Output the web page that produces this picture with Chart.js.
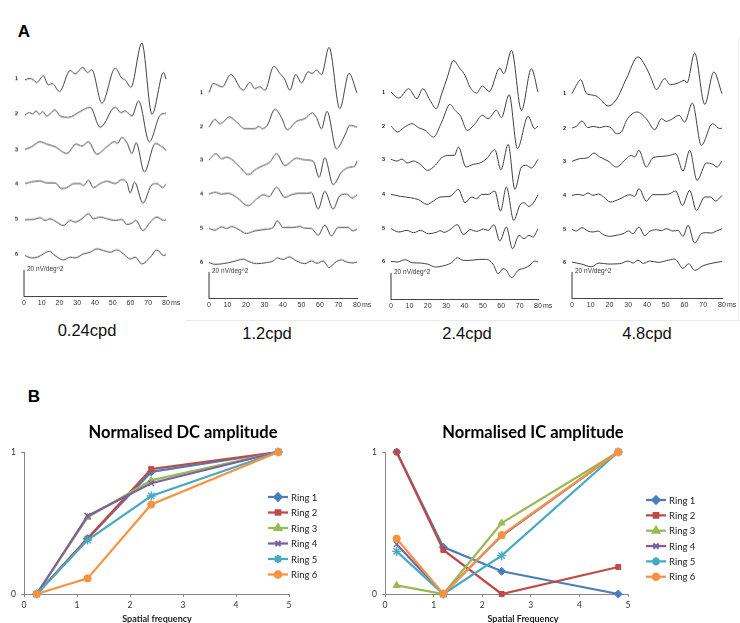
<!DOCTYPE html>
<html><head><meta charset="utf-8">
<script src="https://cdn.jsdelivr.net/npm/chart.js@4.4.0/dist/chart.umd.min.js"></script>
<style>
html,body{margin:0;padding:0;background:#fff;}
body{width:740px;height:623px;overflow:hidden;position:relative;font-family:"Liberation Sans",Arial,sans-serif;}
.box{position:absolute;}
.txt{position:absolute;white-space:nowrap;transform:translate(-50%,-50%);line-height:1;color:#111;}
.rule{position:absolute;background:#e9e9e9;}
</style></head><body>

<div class="rule" style="left:185px;top:320px;width:555px;height:1px"></div>
<div class="rule" style="left:738px;top:38px;width:1px;height:282px"></div>

<div class="txt" style="left:24px;top:32px;font:bold 17px 'Liberation Sans';color:#000">A</div>
<div class="txt" style="left:34px;top:397px;font:bold 17px 'Liberation Sans';color:#000">B</div>

<div class="box" id="p1"><canvas id="c1"></canvas></div>
<div class="box" id="p2"><canvas id="c2"></canvas></div>
<div class="box" id="p3"><canvas id="c3"></canvas></div>
<div class="box" id="p4"><canvas id="c4"></canvas></div>

<div class="txt" id="cap1" style="left:87px;top:330px;font:16.5px 'Liberation Sans'"></div>
<div class="txt" id="cap2" style="left:267px;top:333px;font:16.5px 'Liberation Sans'"></div>
<div class="txt" id="cap3" style="left:467px;top:333px;font:16.5px 'Liberation Sans'"></div>
<div class="txt" id="cap4" style="left:647px;top:333px;font:16.5px 'Liberation Sans'"></div>

<div class="box" id="b1"><canvas id="d1"></canvas></div>
<div class="box" id="b2"><canvas id="d2"></canvas></div>

<div class="txt" id="t1" style="left:183px;top:432px;font:bold 16.5px Lato;color:#000"></div>
<div class="txt" id="t2" style="left:533px;top:432px;font:bold 16.5px Lato;color:#000"></div>
<div class="txt" id="x1" style="left:157px;top:618px;font:bold 9px Lato;color:#222"></div>
<div class="txt" id="x2" style="left:523px;top:618px;font:bold 9px Lato;color:#222"></div>

<script>
// ---------------- DATA ----------------
const panelCaptions = ['0.24cpd', '1.2cpd', '2.4cpd', '4.8cpd'];
const timeUnit = 'ms';
const timeTicks = [0, 10, 20, 30, 40, 50, 60, 70, 80];
const scaleBar = [0, 20];            // nV/deg^2
const scaleLabel = '20 nV/deg^2';

// traces: [time ms, amplitude nV/deg^2] for rings 1..6
const traces024 = [
  [[0.6,-0.75],[3.4,0.25],[5.3,-0.75],[7.2,-2.75],[10.9,2.25],[13.7,-4.5],[15.9,-3.5],[20,-9.5],[26,6.25],[28.8,3.75],[33.1,8.5],[35.8,4.75],[38.2,6.75],[43.9,-18.25],[51.4,8],[55.1,0.5],[57,-0.75],[60.2,-6.25],[66.4,26.75],[72.1,-26.5],[78.7,4.75],[80,-0.25]],
  [[0.6,-1.25],[3,0.5],[4.9,-0.5],[6.8,1.75],[8.7,-0.75],[10.5,1.25],[12.8,-2],[17.5,2.5],[20.3,-2],[25,-3],[31.6,1.25],[37.3,4.5],[42.9,-10.5],[51.4,4.5],[54.6,0.5],[57,1.75],[60.8,-2],[64.6,9.25],[70.6,-21.25],[76.8,-1.25],[80,0]],
  [[0.6,0],[4.3,2],[9,5.75],[12.8,4],[17.5,2],[24.1,-3],[29.4,4],[32.6,2.5],[36.3,5.75],[41,-3.5],[46.7,2],[51,5.75],[52.7,4.5],[55.1,9],[58,5],[60.8,-3],[63.2,5],[67.8,-16.75],[74,4.5],[77.7,2],[80,-0.5]],
  [[0.6,0],[4.3,1.25],[9,2],[12.8,0.5],[17.5,0.5],[21.3,-3.75],[24.1,-3],[28.2,0],[31.6,0],[33.5,-1.5],[36.3,2.5],[39.1,-3],[42.9,0],[46.7,1.75],[51.4,0],[55.1,3],[58,0.5],[59.8,-7],[62.3,1],[67,-14.5],[72.1,-0.75],[74.9,0],[78.1,-3],[80,-0.5]],
  [[0.6,-0.25],[5.3,0],[9,1.25],[11.9,-0.75],[14.7,0.5],[18.4,-2],[22.2,-4.5],[26,-0.75],[28.8,-2],[32.6,0.5],[36.3,4.25],[39.1,0.5],[42.9,1.75],[46.7,0.5],[51.4,-0.75],[55.1,0],[58,-3.75],[60.8,-2.75],[63,-0.75],[67,-8.25],[71.1,-2],[74.9,1.75],[78.7,-0.75],[80,0]],
  [[0.6,-0.75],[4.3,-2.5],[7.5,-2],[10.9,0.5],[14.3,2.5],[17.5,-0.75],[22.2,-4],[26,-2],[28.8,-2.5],[33.5,0.5],[37.3,1.75],[41,4.25],[44.8,3],[48.6,1.75],[52.3,3.5],[56.1,0.5],[59.8,-3.25],[62.7,-2],[66.4,-7],[71.1,-2],[74.9,3.5],[78.7,-0.75],[80,0]]
];
const traces12 = [
  [[0,0],[2.3,6.75],[7.2,4.25],[11.7,13.5],[18.5,1.75],[22.1,7.5],[24.8,3],[27.5,4.25],[30.2,1.75],[35.1,19.75],[38.3,14.25],[41,9.75],[43.7,1.75],[46.9,13.5],[50,7.25],[53.6,15.5],[55.7,14.25],[58.1,16.75],[60.8,13.5],[64.9,33.75],[70.7,-12],[75.7,14.25],[80,-0.25]],
  [[0,0],[3.2,5.75],[5.9,2.5],[7.7,3.75],[11,7.5],[14.9,3.75],[19.4,-1.25],[24.8,-1.25],[27,0.5],[28.8,-1.25],[31.5,1.25],[35.6,13.25],[39.2,7],[42.3,-2],[47.3,4.25],[51.8,6.25],[55.9,10.5],[58.1,7],[60.8,-1.25],[63.8,11.75],[68.9,-16.25],[73.4,-6.25],[76.1,1.25],[80,0]],
  [[0,0],[3.8,4.5],[6.8,0.75],[9.5,2],[13.1,-0.5],[16.7,-5.5],[21.2,-11],[25.7,-6.75],[29.3,-4.25],[32.9,-1.75],[36.5,4.5],[41,-4.25],[47.3,1.25],[51.8,0],[56.3,-1],[59.5,-13],[62.6,1.5],[67.1,-18.5],[71.6,-9.25],[76.1,-5.5],[78.8,-4.75],[80,-1]],
  [[0,0],[3.2,1.25],[6.8,0],[10.4,0.5],[14.9,-2.5],[21.2,-8.75],[25.7,-3.75],[29.7,-0.5],[32.4,-2],[36.5,5],[41,-2.5],[44.6,-0.5],[48.2,0.5],[52.7,0.5],[55.4,1],[59,-11.25],[62.6,2],[67.1,-11.25],[70.7,-1.25],[74.3,0],[77.3,-3],[80,-0.75]],
  [[0,0],[3.2,-1.25],[6.8,1.25],[9.5,0],[12.2,1.5],[15.8,-0.5],[20.3,-3.75],[24.8,-1.75],[31.5,-0.5],[34.7,0.75],[36.9,5.75],[40.1,0.75],[45.5,0.75],[49.1,1.5],[51.8,0.25],[55.4,0],[59,-5],[62.6,2.5],[66.2,-5.5],[69.8,0.75],[75.2,0.75],[77.9,-1.75],[80,-0.5]],
  [[0,0],[3.2,-1.25],[7.7,-0.75],[13.1,0.75],[18.5,2.5],[22.1,0.5],[25.7,-0.75],[31.1,0],[34.7,1.25],[36.9,3.5],[40.1,2.25],[43.3,4.25],[47.3,1.25],[51.8,-0.75],[55.4,1.25],[58.4,-0.5],[61.7,1.25],[64.9,-3.75],[68,0],[71.6,2],[74.3,0.5],[77.9,-0.25],[80,0.5]]
];
const traces24 = [
  [[0,0],[4.2,-4.5],[9.6,2.5],[14.1,-5],[17.3,2.5],[21.3,-6.25],[24.6,-12.5],[27.6,-1.25],[30.7,11.25],[34,23.75],[37.2,18.25],[40.3,12.5],[43,3.75],[46.6,-0.75],[49.7,4.5],[53.5,0.5],[59.2,18],[61.4,13.75],[65.6,31.25],[71,-13.75],[76.4,17.5],[80,0]],
  [[0,0],[3.6,-4.5],[6.9,-1.25],[9,0.5],[11.4,1.75],[15,-1.25],[18.6,-3.25],[23.1,-8.25],[27.6,3],[32.1,16.25],[34.9,11.75],[37.9,7.25],[41.5,-3.25],[45.7,1.75],[49.7,8],[52.9,5.5],[57.4,11.75],[60.1,6.25],[64.3,23.5],[68.8,-17],[74.6,7.25],[78.2,-2],[80,0]],
  [[0,0],[3.3,-1.25],[6,0.25],[8.7,-2.75],[12.3,-1.25],[15.9,-3.75],[19.9,-8.25],[24,-4.5],[27.6,1.25],[32.1,3],[34.5,3],[36.7,9.25],[40.8,-5.75],[44.8,-3.75],[48.4,-2.75],[52,0.5],[56.5,7.25],[59.8,-7.75],[63.8,11.25],[67.4,-22.5],[71,-5.75],[73.7,-4.5],[76.4,-6.5],[80,0]],
  [[0,0],[5.1,-1.5],[10.5,-2.5],[15,-4],[19.5,-7.5],[23.1,-5],[26.7,-2],[32.1,-1.5],[36.7,3.75],[40.3,-6.25],[43.9,-2],[46.6,-3.25],[49.3,0],[52.9,0],[56.5,2.5],[59.6,-12.5],[62.8,5.5],[66.8,-19.5],[70.1,-8.25],[72.2,-6.25],[75.1,-9],[77.8,-5.75],[80,-0.25]],
  [[0,0],[4.2,-2.5],[8.7,-1.25],[12.3,-3],[15.9,-1.25],[20.4,-3.75],[24.6,-2.75],[26.7,-1.5],[28.9,-2.75],[32.1,-0.75],[36.1,3],[39.4,-4.5],[43,-0.75],[46.6,-2],[50.2,-0.25],[52.9,-1.25],[56,3],[59.2,-9.25],[62.8,1.25],[66.1,-15],[69.7,-5],[72.4,-7.5],[75.1,-5],[77.3,-6.25],[80,0]],
  [[0,0],[3.3,-0.5],[7.8,1.25],[11.4,-1],[15.9,-1.25],[20.4,-2.25],[24,-4.25],[29.4,-3],[33,-1],[36.1,2.75],[39.4,0.75],[43,0.75],[48.4,1.5],[52,1.5],[55.6,-2.25],[58.3,-9.25],[61,-5.5],[62.8,-6.75],[65.6,-12.25],[69.2,-6.75],[72.8,-5],[75.5,-3],[78.2,0.25],[80,-0.5]]
];
const traces48 = [
  [[0,0],[2.3,6.25],[4.6,10.5],[7.3,1.25],[8.5,-0.5],[12.1,-1.25],[14.8,-3.75],[19.2,-9.25],[23.6,-4.5],[29,11.25],[35.2,27.5],[39.6,19.5],[42.3,11.25],[45,3],[49.4,11.25],[52.4,6.75],[56.5,8],[60.1,10],[61.3,8],[65.4,30.5],[70.8,-8],[75.6,16.25],[80,0]],
  [[0,0],[2.3,1.25],[5.3,5.25],[8.5,0.25],[11.2,1.25],[14.8,0.25],[17.8,1.25],[21,0],[23.6,-4.25],[26.3,-3],[29.3,6.25],[34.7,12],[39.6,7],[44.1,-1.25],[47.7,7],[50.3,5],[53,6.5],[57.1,9.5],[60.1,4.5],[64.2,18.75],[69,-13],[74.9,3.25],[78.8,-0.5],[80,0]],
  [[0,0],[4.1,2],[8.5,2.75],[11.7,6.25],[14.8,3.25],[19.2,0.25],[23.6,-4.25],[29,2],[31.6,4.5],[33.4,3.25],[35.7,8.25],[39.6,-4.25],[43.2,2.75],[48.5,3.75],[52.1,4.5],[55.3,5.75],[59.2,-7.25],[62.8,8.25],[66.7,-14.25],[71.7,-1.25],[75.2,-2.25],[77.3,-4.25],[80,0.25]],
  [[0,0],[3.2,0.75],[5.9,0],[8.5,1.75],[11.2,0],[14.2,1],[16.9,-1.25],[20.4,-5],[25.4,-2.75],[30.8,0.5],[33.4,-0.75],[35.7,5],[39.6,-4.25],[43.2,0.5],[48.5,0.5],[52.1,1.25],[55.3,3.25],[58.9,-7.5],[62.8,3.75],[66.3,-11.25],[70.8,-1.25],[73.8,-1.25],[76.6,-4.25],[80,0]],
  [[0,0],[2.3,-1.25],[5.3,1.25],[8.5,-1.25],[11.2,-2],[13.9,-1.25],[16.5,-3.75],[20.1,-5.25],[23.6,-4.5],[27.2,-3.25],[30.2,-1.25],[32.5,-3.25],[35.7,1.75],[38.8,-4.75],[41.4,-1.5],[45,-0.25],[47.6,-1],[50.3,0.5],[53.9,-1.25],[56.5,-0.75],[59.2,-5.25],[61.9,3],[65.4,-10.25],[69,-3.25],[71.7,-2.5],[74.3,-2.75],[77,-1.25],[80,0.5]],
  [[0,0],[5,-1.5],[10.3,-3.5],[14.4,-0.75],[19.2,-1.5],[25.4,-1.25],[29.9,0.75],[32.5,-0.75],[35.2,1.25],[38.2,-1],[41.4,0.75],[45.9,-0.25],[50.3,1],[54.8,2.25],[59.2,-4.75],[62.2,-1.25],[65.4,-6.25],[69.9,-2.75],[75.2,-0.75],[80,0.5]]
];

// Part B
const spatialFreq = [0.24, 1.2, 2.4, 4.8];
const ringLabels = ['Ring 1', 'Ring 2', 'Ring 3', 'Ring 4', 'Ring 5', 'Ring 6'];
const dcRing1 = [0, 0.39, 0.86, 1];
const dcRing2 = [0, 0.39, 0.88, 1];
const dcRing3 = [0, 0.54, 0.80, 1];
const dcRing4 = [0, 0.55, 0.78, 1];
const dcRing5 = [0, 0.38, 0.69, 1];
const dcRing6 = [0, 0.11, 0.63, 1];
const icRing1 = [1, 0.33, 0.16, 0];
const icRing2 = [1, 0.31, 0, 0.19];
const icRing3 = [0.06, 0, 0.50, 1];
const icRing4 = [0.35, 0, 0.41, 1];
const icRing5 = [0.30, 0, 0.27, 1];
const icRing6 = [0.39, 0, 0.415, 1];
const titleDC = 'Normalised DC amplitude';
const titleIC = 'Normalised IC amplitude';
const xTitleDC = 'Spatial frequency';
const xTitleIC = 'Spatial Frequency';

// ---------------- LAYOUT / STYLE ----------------
const panelLayout = [
  {x0:24,  x80:166, axisY:296,   offsets:[162.75,137,110,84.5,57.75,31.5]},
  {x0:209, x80:357, axisY:297.7, offsets:[154,128.25,103.75,78.25,52.5,27]},
  {x0:391, x80:538, axisY:299.3, offsets:[155.7,130.25,105.25,79,53.25,28.75]},
  {x0:572, x80:722, axisY:298.3, offsets:[153.75,128,103,77.5,52,27.5]}
];
const ringColors = ['#4A7EBB','#BE4B48','#98B954','#7D60A0','#46AAC5','#F69240'];
const ringMarkers = ['rectRot','rect','triangle','crossRot','star','circle'];
const ringRadius = [4, 3.5, 4, 4, 4.5, 3.6];

// ---------------- PLUGINS ----------------
const traceText = {
  id: 'traceText',
  afterDatasetsDraw(chart, args, o) {
    const {ctx} = chart; const x = chart.scales.x, y = chart.scales.y;
    const y0 = y.getPixelForValue(0);
    ctx.save();
    ctx.fillStyle = '#222';
    ctx.font = 'bold 5.5px "Liberation Sans"';
    ctx.textAlign = 'right'; ctx.textBaseline = 'middle';
    o.offsets.forEach((off, i) => ctx.fillText(String(i + 1), x.getPixelForValue(0) - 6, y.getPixelForValue(off)));
    ctx.fillStyle = '#333';
    ctx.font = '6.5px "Liberation Sans"';
    ctx.textAlign = 'left'; ctx.textBaseline = 'bottom';
    ctx.fillText(scaleLabel, x.getPixelForValue(0) + 3, y.getPixelForValue(scaleBar[1]) + 2);
    // time tick labels
    ctx.font = '7px "Liberation Sans"';
    ctx.textAlign = 'center'; ctx.textBaseline = 'middle';
    timeTicks.forEach(t => ctx.fillText(String(t), x.getPixelForValue(t), y0 + 6.5));
    ctx.textAlign = 'left';
    ctx.fillText(timeUnit, x.getPixelForValue(timeTicks[timeTicks.length - 1]) + 5, y0 + 6.5);
    ctx.restore();
  }
};

function drawMarker(ctx, style, r, cx, cy, color, bw) {
  if (Chart.helpers && Chart.helpers.drawPoint) {
    ctx.fillStyle = color; ctx.strokeStyle = color;
    Chart.helpers.drawPoint(ctx, {pointStyle: style, radius: r, borderWidth: bw, rotation: 0}, cx, cy);
  }
}

const ringLegend = {
  id: 'ringLegend',
  afterDraw(chart, args, o) {
    const ctx = chart.ctx;
    chart.data.datasets.forEach((ds, i) => {
      const y = o.y + i * o.dy;
      ctx.save();
      ctx.strokeStyle = ds.borderColor; ctx.lineWidth = 2.25;
      ctx.beginPath(); ctx.moveTo(o.x, y); ctx.lineTo(o.x + 20, y); ctx.stroke();
      drawMarker(ctx, ds.pointStyle, ds.pointRadius * 0.9, o.x + 10, y, ds.borderColor, ds.pointBorderWidth);
      ctx.fillStyle = '#222'; ctx.font = '9.5px Lato';
      ctx.textAlign = 'left'; ctx.textBaseline = 'middle';
      ctx.fillText(ds.label, o.x + 23, y + 0.5);
      ctx.restore();
    });
  }
};

// ---------------- PART A ----------------
const F = 4 / 3, YMAX = 200;
function traceChart(n, traces, L) {
  const padL = 10, padR = 18, padT = 2, padB = 16;
  const w = (L.x80 - L.x0) + padL + padR;
  const h = padT + YMAX * F + padB;
  const wrap = document.getElementById('p' + n);
  wrap.style.left = (L.x0 - padL) + 'px';
  wrap.style.top = (L.axisY - YMAX * F - padT) + 'px';
  wrap.style.width = w + 'px'; wrap.style.height = h + 'px';
  const datasets = traces.map((tr, i) => ({
    label: String(i + 1),
    data: tr.map(p => ({x: p[0], y: p[1] + L.offsets[i]})),
    borderColor: '#404040', borderWidth: 1, pointRadius: 0,
    cubicInterpolationMode: 'monotone', clip: false
  }));
  datasets.push({label: 'scale', data: scaleBar.map(v => ({x: 0, y: v})),
    borderColor: '#333', borderWidth: 1, pointRadius: 0, clip: false});
  new Chart(document.getElementById('c' + n), {
    type: 'line',
    data: {datasets},
    options: {
      animation: false, responsive: true, maintainAspectRatio: false,
      layout: {padding: {left: padL, right: padR, top: padT, bottom: padB}},
      plugins: {legend: {display: false}, tooltip: {enabled: false}, traceText: {offsets: L.offsets}},
      scales: {
        x: {type: 'linear', min: 0, max: 80, display: true,
            ticks: {display: false, stepSize: 10},
            grid: {display: false}, border: {display: true, color: '#444', width: 1},
            afterFit(s) { s.height = 0; }},
        y: {display: false, min: 0, max: YMAX}
      }
    },
    plugins: [traceText]
  });
  document.getElementById('cap' + n).textContent = panelCaptions[n - 1];
}
traceChart(1, traces024, panelLayout[0]);
traceChart(2, traces12, panelLayout[1]);
traceChart(3, traces24, panelLayout[2]);
traceChart(4, traces48, panelLayout[3]);

// ---------------- PART B ----------------
function ampChart(n, series, L) {
  const wrap = document.getElementById('b' + n);
  wrap.style.left = L.left + 'px'; wrap.style.top = L.top + 'px';
  wrap.style.width = L.w + 'px'; wrap.style.height = L.h + 'px';
  const datasets = series.map((vals, i) => ({
    label: ringLabels[i],
    data: vals.map((v, k) => ({x: spatialFreq[k], y: v})),
    borderColor: ringColors[i], backgroundColor: ringColors[i],
    pointBackgroundColor: ringColors[i], pointBorderColor: ringColors[i],
    pointStyle: ringMarkers[i], pointRadius: ringRadius[i],
    pointBorderWidth: (ringMarkers[i] === 'crossRot' || ringMarkers[i] === 'star') ? 1.4 : 1,
    borderWidth: 2.25, tension: 0, order: 6 - i, clip: false
  }));
  const axisCol = '#868686';
  new Chart(document.getElementById('d' + n), {
    type: 'line',
    data: {datasets},
    options: {
      animation: false, responsive: true, maintainAspectRatio: false,
      layout: {padding: L.pad},
      plugins: {legend: {display: false}, tooltip: {enabled: false}, ringLegend: L.legend},
      scales: {
        x: {type: 'linear', min: 0, max: 5,
            ticks: {stepSize: 1, color: '#333', font: {size: 8.5, family: 'Lato'}, padding: 3, maxRotation: 0},
            grid: {display: true, drawOnChartArea: false, drawTicks: true, tickLength: 3, color: axisCol},
            border: {display: true, color: axisCol, width: 1},
            afterFit(s) { s.height = 20; }},
        y: {type: 'linear', min: 0, max: 1,
            ticks: {stepSize: 1, color: '#333', font: {size: 8.5, family: 'Lato'}, padding: 5},
            grid: {display: true, drawOnChartArea: false, drawTicks: true, tickLength: 3, color: axisCol},
            border: {display: true, color: axisCol, width: 1},
            afterFit(s) { s.width = L.yW; }}
      }
    },
    plugins: [ringLegend]
  });
}
ampChart(1, [dcRing1, dcRing2, dcRing3, dcRing4, dcRing5, dcRing6],
  {left: 0, top: 400, w: 370, h: 223, yW: 20, pad: {left: 4, right: 81, top: 52, bottom: 9}, legend: {x: 268, y: 97, dy: 15.5}});
ampChart(2, [icRing1, icRing2, icRing3, icRing4, icRing5, icRing6],
  {left: 370, top: 400, w: 370, h: 223, yW: 15, pad: {left: 0, right: 112, top: 52, bottom: 9}, legend: {x: 276, y: 100, dy: 15.35}});

document.getElementById('t1').textContent = titleDC;
document.getElementById('t2').textContent = titleIC;
document.getElementById('x1').textContent = xTitleDC;
document.getElementById('x2').textContent = xTitleIC;
</script>
</body></html>
